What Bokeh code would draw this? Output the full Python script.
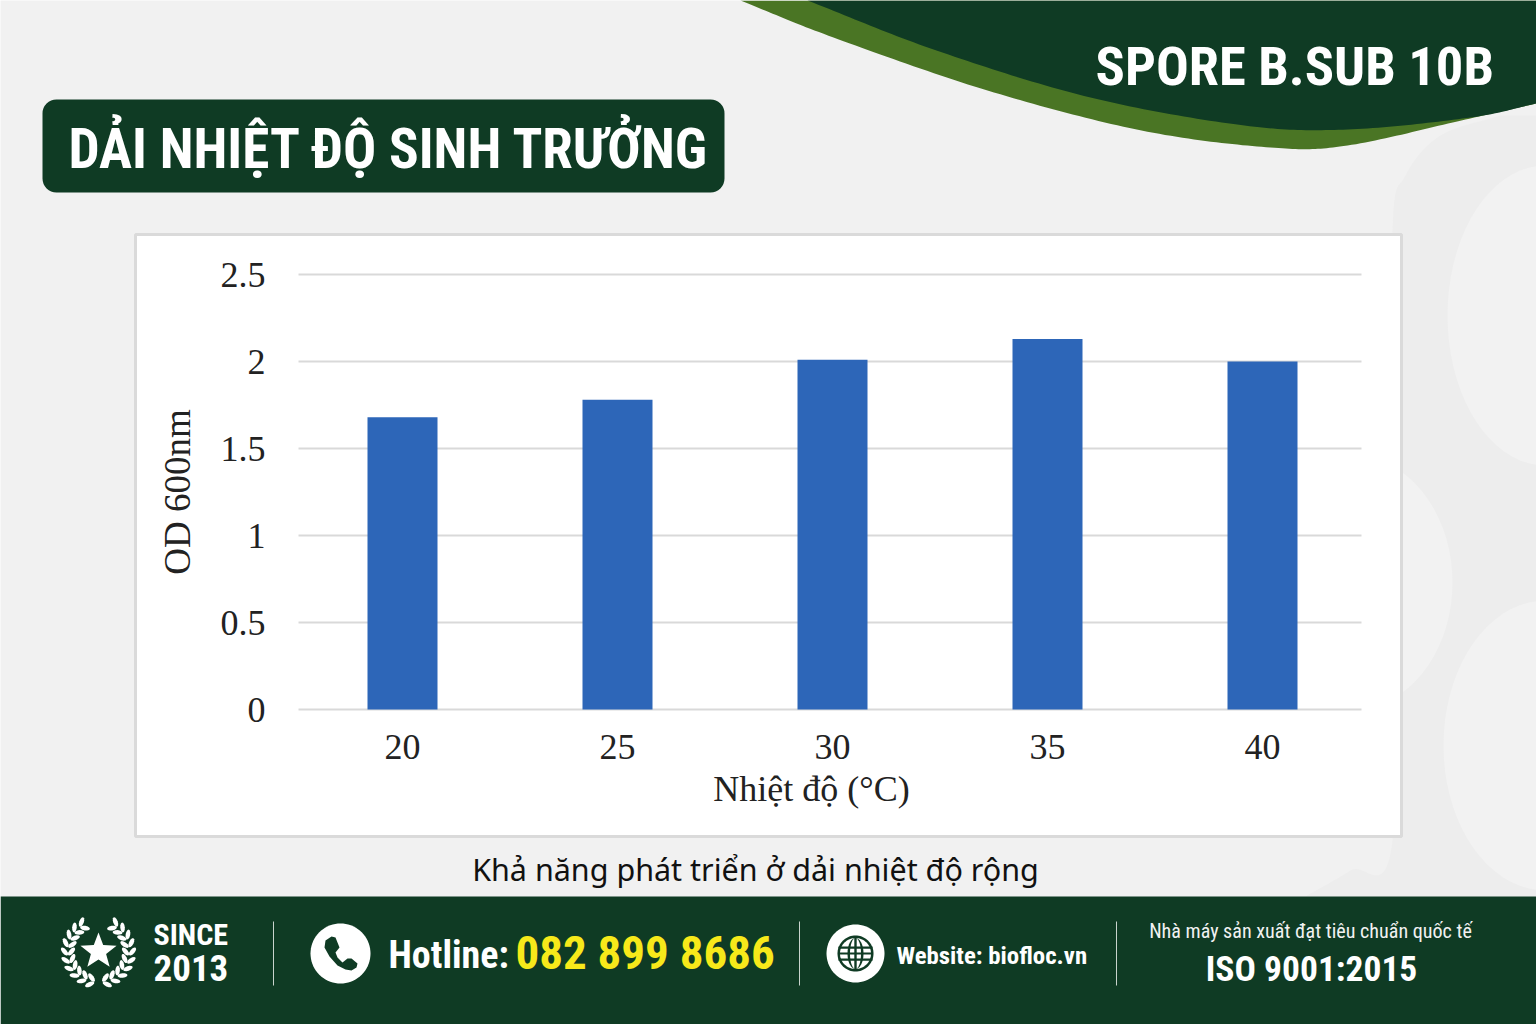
import numpy as np
from bokeh.plotting import figure
from bokeh.models import (Range1d, LinearAxis, FixedTicker, Label)
from bokeh.embed import file_html
from bokeh.resources import INLINE

# ---- data ----
temperatures = [20, 25, 30, 35, 40]
od_values = [1.68, 1.78, 2.01, 2.13, 2.00]
y_ticks = [0, 0.5, 1, 1.5, 2, 2.5]
y_tick_labels = ["0", "0.5", "1", "1.5", "2", "2.5"]
x_title = "Nhiệt độ (°C)"
y_title = "OD 600nm"
caption = "Khả năng phát triển ở dải nhiệt độ rộng"
heading = "DẢI NHIỆT ĐỘ SINH TRƯỞNG"
brand = "SPORE B.SUB 10B"

DARK = "#0f3b24"
GREEN = "#4a7524"
BLUE = "#2d66b8"
NARROW = "'Roboto Condensed', Lato"
SERIF = "Liberation Serif"

W, H = 1536, 1024
FL, FR, FT, FB = 298, 1361, 274, 709   # chart area in reference pixels
PX_PER_X = 43.0
PX_PER_Y = (FB - FT) / 2.5
X0 = 402


def xv(px):
    return 20 + (px - X0) / PX_PER_X


def yv(py):
    return (FB - py) / PX_PER_Y


p = figure(width=W, height=H, output_backend="svg", toolbar_location=None,
           x_range=Range1d(xv(0), xv(W)), y_range=Range1d(yv(H), yv(0)),
           min_border=0, min_border_left=0, min_border_right=0, min_border_top=0, min_border_bottom=0,
           x_axis_type=None, y_axis_type=None,
           border_fill_color="#f1f1f1", background_fill_color="#f1f1f1", outline_line_color=None)
p.extra_x_ranges["px"] = Range1d(0, W)
p.extra_y_ranges["py"] = Range1d(H, 0)
p.xgrid.visible = False
p.ygrid.visible = False


def poly(xs, ys, color, level="annotation"):
    p.patch(list(map(float, xs)), list(map(float, ys)), fill_color=color, line_color=None, level=level,
            x_range_name="px", y_range_name="py")


def disc(cx, cy, r, color, level="annotation", ry=None):
    t = np.linspace(0, 2 * np.pi, 73)[:-1]
    poly(cx + r * np.cos(t), cy + (ry or r) * np.sin(t), color, level)


def box(l, r, t, b, color, radius=0, level="annotation", line=None, lw=1):
    p.quad(left=[l], right=[r], top=[t], bottom=[b], fill_color=color, line_color=line, line_width=lw,
           border_radius=radius, level=level, x_range_name="px", y_range_name="py")


def text(x, y, s, size, color="#ffffff", font=NARROW, style="bold", align="left"):
    p.add_layout(Label(x=x, y=y, text=s, text_font=font, text_font_size=f"{size}px", text_font_style=style,
                       text_color=color, text_align=align, text_baseline="middle", level="overlay",
                       x_range_name="px", y_range_name="py"))


def smooth(pts, n=24):
    pts = np.array(pts, float)
    pp = np.vstack([2 * pts[0] - pts[1], pts, 2 * pts[-1] - pts[-2]])
    out = []
    for i in range(1, len(pp) - 2):
        a, b, c, d = pp[i - 1], pp[i], pp[i + 1], pp[i + 2]
        for t in np.linspace(0, 1, n, endpoint=False):
            out.append(0.5 * (2 * b + (c - a) * t + (2 * a - 5 * b + 4 * c - d) * t ** 2 + (3 * b - a - 3 * c + d) * t ** 3))
    out.append(pts[-1])
    return np.array(out)


# ---- background decoration ----
shade = smooth([(1500, 115), (1440, 135), (1405, 175), (1392, 230), (1392, 500), (1392, 840), (1350, 870), (1305, 896)])
poly(list(shade[:, 0]) + [1536, 1536], list(shade[:, 1]) + [896, 115], "#ededed", "image")
disc(1545, 315, 98, "#f2f2f2", "image", ry=150)
disc(1350, 582, 102, "#f2f2f2", "image", ry=128)
disc(1545, 745, 102, "#f2f2f2", "image", ry=145)

# top swoosh
green = smooth([(740, 0), (833, 37), (987, 90), (1141, 130), (1270, 147), (1347, 145), (1465, 119), (1536, 103)])
dark = smooth([(807, 0), (936, 50), (1090, 97), (1244, 125), (1347, 129), (1470, 117), (1536, 103)])
poly(list(green[:, 0]) + [1536, 740], list(green[:, 1]) + [0, 0], GREEN, "image")
poly(list(dark[:, 0]) + [1536, 807], list(dark[:, 1]) + [0, 0], DARK, "image")

# white chart card, heading box, footer
box(135, 1401, 234, 836, "#ffffff", level="image", line="#dadada", lw=3)
box(42, 724, 99, 192, DARK, radius=14, level="image")
box(0, 1536, 896, 1024, DARK, level="image")

# ---- chart ----
p.segment(x0=[xv(FL)] * len(y_ticks), x1=[xv(FR)] * len(y_ticks), y0=y_ticks, y1=y_ticks,
          line_color="#d9d9d9", line_width=2, level="underlay")
p.vbar(x=temperatures, top=od_values, bottom=0, width=70 / PX_PER_X, color=BLUE, line_color=None)

xaxis = LinearAxis(ticker=FixedTicker(ticks=temperatures), fixed_location=0, bounds=(18.92, 40.1),
                   major_tick_line_color=None, minor_tick_line_color=None,
                   axis_line_color=None, major_label_standoff=19,
                   major_label_text_font=SERIF, major_label_text_font_size="36px", major_label_text_color="#222222",
                   axis_label=x_title, axis_label_standoff=7, axis_label_text_font=SERIF,
                   axis_label_text_font_size="36px", axis_label_text_font_style="normal", axis_label_text_color="#222222")
yaxis = LinearAxis(ticker=FixedTicker(ticks=y_ticks), fixed_location=xv(FL), bounds=(0, 2.5),
                   major_tick_line_color=None, minor_tick_line_color=None,
                   axis_line_color=None, major_label_standoff=27,
                   major_label_overrides=dict(zip(y_ticks, y_tick_labels)),
                   major_label_text_font=SERIF, major_label_text_font_size="36px", major_label_text_color="#222222",
                   axis_label=y_title, axis_label_standoff=20, axis_label_text_font=SERIF,
                   axis_label_text_font_size="37px", axis_label_text_font_style="normal", axis_label_text_color="#222222")
p.add_layout(xaxis, "below")
p.add_layout(yaxis, "left")

text(755, 868, caption, 30.5, "#111111", "Noto Sans", "normal", "center")

# ---- header text ----
text(68, 148, heading, 55.2)
text(1095, 65, brand, 54.5)

# ---- footer ----
for dx in (273, 799, 1116):
    box(dx - 0.5, dx + 0.5, 921, 985, "#c9d3cd")

# laurel
for side in (-1, 1):
    for a in np.radians(np.arange(-75, 62, 15)):
        for off, spread in ((-1, 0.7), (1, -0.7)):
            cx = 98 + side * (30.5 + off * 3.5) * np.cos(a)
            cy = 951 - (30.5 + off * 3.5) * np.sin(a)
            ang = a + np.pi / 2 + spread
            t = np.linspace(0, 2 * np.pi, 13)
            lx = 5.0 * np.cos(t)
            ly = 2.3 * np.sin(t)
            poly(cx + side * (lx * np.cos(ang) - ly * np.sin(ang)), cy - (lx * np.sin(ang) + ly * np.cos(ang)), "#ffffff")
# star
sa = np.radians(np.arange(0, 360, 36)) - np.pi / 2
sr = np.array([19, 8] * 5)
poly(98 + sr * np.cos(sa), 951 + sr * np.sin(sa), "#ffffff")

text(153, 934, "SINCE", 30)
text(153, 967, "2013", 37)

# phone icon
disc(340, 953, 30, "#ffffff")
poly([325, 331, 335, 339, 335, 337, 342, 347, 351, 357, 356, 351, 345, 337, 329, 324],
     [940, 936, 937, 947, 952, 957, 962, 958, 958, 963, 967, 970, 969, 965, 956, 947], DARK)
text(388, 954, "Hotline:", 38)
text(515, 952, "082 899 8686", 47, "#f7e91a")

# globe icon
disc(855, 953, 29, "#ffffff")
disc(855, 953, 18, DARK)
disc(855, 953, 15.5, "#ffffff")
disc(855, 953, 8, DARK, ry=15.5)
disc(855, 953, 5.5, "#ffffff", ry=15.5)
box(853.8, 856.2, 937, 969, DARK)
box(838, 872, 946, 948.2, DARK)
box(838, 872, 958, 960.2, DARK)
box(838, 872, 952, 954, DARK)

text(896, 955, "Website: biofloc.vn", 24.8)
text(1310, 930, "Nhà máy sản xuất đạt tiêu chuẩn quốc tế", 20.1, "#f2f2f2", NARROW, "normal", "center")
text(1311, 968, "ISO 9001:2015", 35.5, align="center")

open("out.html", "w").write(file_html(p, INLINE))
